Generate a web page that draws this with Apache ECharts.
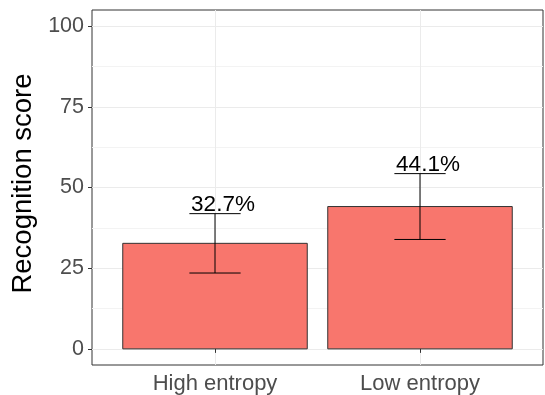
<!DOCTYPE html>
<html>
<head>
<meta charset="utf-8">
<script src="https://cdn.jsdelivr.net/npm/echarts@6/dist/echarts.min.js"></script>
<style>
html,body{margin:0;padding:0;background:#fff;}
#chart{width:545px;height:395px;}
</style>
</head>
<body>
<div id="chart"></div>
<script>
const categories = ['High entropy', 'Low entropy'];
const scores = [32.7, 44.1];
const errLow = [23.5, 33.9];
const errHigh = [41.9, 54.3];
const valueLabels = ['32.7%', '44.1%'];
const yTicks = [0, 25, 50, 75, 100];
const yMinorTicks = [12.5, 37.5, 62.5, 87.5];
const yTitle = 'Recognition score';

const FONT = "'Liberation Sans', Arial, sans-serif";
const chart = echarts.init(document.getElementById('chart'), null, {renderer: 'canvas'});

const barData = scores.map((v, i) => [i + 1, v]);
const errData = scores.map((v, i) => [i + 1, errLow[i], errHigh[i]]);
const labelData = scores.map((v, i) => [i + 1, errHigh[i], valueLabels[i]]);

const option = {
  animation: false,
  backgroundColor: '#ffffff',
  grid: {
    left: 92, right: 2, top: 10, bottom: 30,
    show: true, borderColor: '#333333', borderWidth: 1, backgroundColor: 'transparent',
    containLabel: false, outerBoundsMode: 'none'
  },
  xAxis: {
    type: 'value', min: 0.4, max: 2.6,
    axisLine: {show: false},
    axisTick: {show: true, customValues: [1, 2], length: 4, lineStyle: {color: '#333333', width: 1}},
    axisLabel: {
      customValues: [1, 2],
      formatter: v => categories[Math.round(v) - 1],
      fontFamily: FONT, fontSize: 22, color: '#4d4d4d', margin: 8
    },
    splitLine: {show: true, lineStyle: {color: '#ebebeb', width: 1}}
  },
  yAxis: [{
    type: 'value', min: -5, max: 105,
    axisLine: {show: false},
    axisTick: {show: true, customValues: yTicks, length: 4, lineStyle: {color: '#333333', width: 1}},
    axisLabel: {customValues: yTicks, fontFamily: FONT, fontSize: 21.5, color: '#4d4d4d', margin: 8},
    splitLine: {show: true, lineStyle: {color: '#ebebeb', width: 1}},
    name: yTitle, nameLocation: 'middle', nameRotate: 90, nameGap: 52,
    nameTextStyle: {fontFamily: FONT, fontSize: 27.5, color: '#000000', padding: [0, 0, 0, 8]}
  }, {
    type: 'value', min: -5, max: 105, position: 'left',
    axisLine: {show: false},
    axisTick: {show: false, customValues: yMinorTicks},
    axisLabel: {show: false, customValues: yMinorTicks},
    splitLine: {show: true, lineStyle: {color: '#f3f3f3', width: 1}}
  }],
  series: [{
    type: 'custom',
    z: 2,
    data: barData,
    renderItem: (params, api) => {
      const x = api.value(0), y = api.value(1);
      const p1 = api.coord([x - 0.45, y]);
      const p2 = api.coord([x + 0.45, 0]);
      return {
        type: 'rect',
        shape: {x: p1[0], y: p1[1], width: p2[0] - p1[0], height: p2[1] - p1[1]},
        style: {fill: '#F8766D', stroke: '#333333', lineWidth: 1}
      };
    }
  }, {
    type: 'custom',
    z: 3,
    data: errData,
    renderItem: (params, api) => {
      const x = api.value(0), lo = api.value(1), hi = api.value(2);
      const top = api.coord([x, hi]);
      const bot = api.coord([x, lo]);
      const l = api.coord([x - 0.125, hi])[0];
      const r = api.coord([x + 0.125, hi])[0];
      const st = {stroke: '#000000', lineWidth: 1};
      return {
        type: 'group',
        children: [
          {type: 'line', shape: {x1: top[0], y1: top[1], x2: bot[0], y2: bot[1]}, style: st},
          {type: 'line', shape: {x1: l, y1: top[1], x2: r, y2: top[1]}, style: st},
          {type: 'line', shape: {x1: l, y1: bot[1], x2: r, y2: bot[1]}, style: st}
        ]
      };
    }
  }, {
    type: 'custom',
    z: 4,
    data: labelData,
    renderItem: (params, api) => {
      const x = api.value(0), hi = api.value(1);
      const p = api.coord([x, hi]);
      return {
        type: 'text',
        x: p[0] + 8, y: p[1] + 3,
        style: {
          text: labelData[params.dataIndex][2],
          fontFamily: FONT, fontSize: 22.5, fill: '#000000',
          align: 'center', verticalAlign: 'bottom'
        }
      };
    }
  }]
};
chart.setOption(option);
</script>
</body>
</html>
